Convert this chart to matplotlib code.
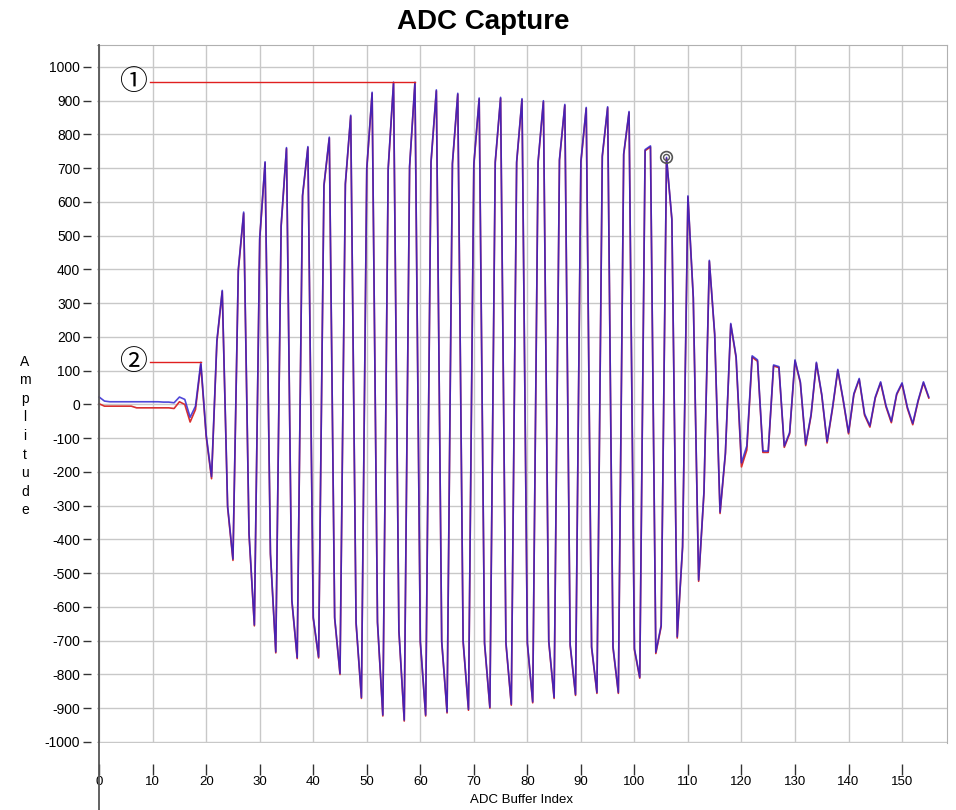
import numpy as np
import matplotlib
matplotlib.use("Agg")
import matplotlib.pyplot as plt
from matplotlib.lines import Line2D

plt.rcParams["axes.unicode_minus"] = False

# ADC buffer samples (two channels, nearly overlapping)
blue = [22, 10, 8, 8, 8, 8, 8, 8, 8, 8,
        8, 8, 7, 7, 5, 22, 15, -38, -5, 125,
        -90, -214, 190, 338, -300, -458, 400, 570, -380, -653,
        493, 719, -440, -733, 530, 761, -578, -750, 620, 764,
        -630, -748, 650, 792, -630, -797, 655, 857, -645, -868,
        700, 925, -643, -920, 700, 955, -668, -935, 706, 955,
        -700, -920, 719, 932, -700, -911, 715, 922, -700, -903,
        712, 908, -705, -897, 719, 910, -705, -888, 719, 906,
        -705, -881, 719, 900, -700, -868, 726, 889, -711, -859,
        720, 880, -717, -853, 737, 882, -717, -853, 743, 868,
        -723, -808, 755, 766, -734, -654, 732, 550, -688, -420,
        618, 318, -520, -257, 427, 209, -319, -143, 240, 142,
        -173, -123, 144, 132, -138, -138, 117, 112, -123, -83,
        132, 67, -118, -30, 125, 30, -110, -10, 104, 15,
        -83, 32, 77, -28, -63, 22, 67, -3, -50, 32,
        64, -8, -56, 12, 67, 22]

red = [2, -5, -5, -5, -5, -5, -5, -10, -10, -10,
       -10, -10, -10, -10, -12, 8, 0, -52, -15, 118,
       -95, -220, 185, 335, -305, -462, 396, 566, -385, -656,
       490, 716, -444, -736, 527, 758, -582, -753, 617, 761,
       -634, -751, 647, 789, -634, -800, 652, 854, -649, -871,
       697, 922, -647, -923, 697, 952, -672, -938, 703, 952,
       -704, -923, 716, 929, -704, -914, 712, 919, -704, -906,
       709, 905, -709, -900, 716, 907, -709, -891, 716, 903,
       -709, -884, 716, 897, -704, -871, 723, 886, -715, -862,
       717, 877, -721, -856, 734, 879, -721, -856, 740, 865,
       -727, -811, 752, 763, -738, -658, 729, 547, -692, -424,
       615, 315, -524, -261, 424, 206, -323, -147, 237, 138,
       -185, -135, 140, 128, -142, -142, 114, 109, -127, -87,
       129, 64, -122, -34, 122, 27, -114, -14, 101, 12,
       -87, 29, 74, -32, -67, 19, 64, -7, -54, 29,
       61, -12, -60, 9, 64, 19]

idx = np.arange(len(blue))

x_ticks = list(range(0, 151, 10))
y_ticks = list(range(-1000, 1001, 100))

# callouts: label, peak index
callout_labels = ["\u2460", "\u2461"]
callout_peaks = [59, 19]
marker_index = 106

fig = plt.figure(figsize=(9.56, 8.10), dpi=100)
ax = fig.add_axes([97 / 956, 1 - 743 / 810, 850 / 956, 698 / 810])

ax.plot(idx, red, color="#d83030", lw=1.2, zorder=3)
ax.plot(idx, blue, color="#2a20d0", lw=1.2, alpha=0.82, zorder=4)

# selected point marker (double circle)
ax.scatter([idx[marker_index]], [blue[marker_index]], s=70, facecolors="none",
           edgecolors="#555555", linewidths=1.2, zorder=6)
ax.scatter([idx[marker_index]], [blue[marker_index]], s=18, facecolors="none",
           edgecolors="#555555", linewidths=1.0, zorder=6)

# callout lines with circled numbers
for lab, pk in zip(callout_labels, callout_peaks):
    yv = blue[pk]
    ax.plot([9.5, idx[pk]], [yv, yv], color="#e02020", lw=1.0, zorder=5)
    ax.text(6.3, yv, lab, ha="center", va="center", fontsize=20,
            family=["Noto Sans CJK JP", "DejaVu Sans"], zorder=7)

ax.set_xlim(-0.4, 158.4)
ax.set_ylim(-1003, 1065)
ax.set_xticks(x_ticks)
ax.set_yticks(y_ticks)
ax.grid(True, color="#c8c8c8", lw=1.0)
ax.set_axisbelow(True)

for s in ["top", "right"]:
    ax.spines[s].set_color("#b0b0b0")
ax.spines["bottom"].set_position(("outward", 15))
ax.spines["bottom"].set_visible(False)
ax.spines["left"].set_position(("outward", 4))
ax.spines["left"].set_visible(False)

ax.tick_params(axis="x", direction="out", length=8, width=1, color="#333333",
               pad=1, labelsize=9.5)
ax.tick_params(axis="y", direction="out", length=6, width=1, color="#333333",
               pad=2, labelsize=10)
for t in ax.get_xticklabels() + ax.get_yticklabels():
    t.set_family("Liberation Sans")

# left axis line running down to the bottom of the figure
fig.add_artist(Line2D([98.5 / 956, 98.5 / 956], [0, 1 - 45 / 810],
                      color="#555555", lw=1.3))

fig.text(483 / 956, 1 - 22 / 810, "ADC Capture", ha="center", va="center",
         fontsize=20, fontweight="bold", family="Liberation Sans")
fig.text(522 / 956, 1 - 800 / 810, "ADC Buffer Index", ha="center", va="center",
         fontsize=9.5, family="Liberation Sans")
fig.text(25 / 956, 1 - 436 / 810, "\n".join("Amplitude"), ha="center",
         va="center", fontsize=10, linespacing=1.42, family="Liberation Sans")

fig.savefig("out.png", dpi=100, facecolor="white")
